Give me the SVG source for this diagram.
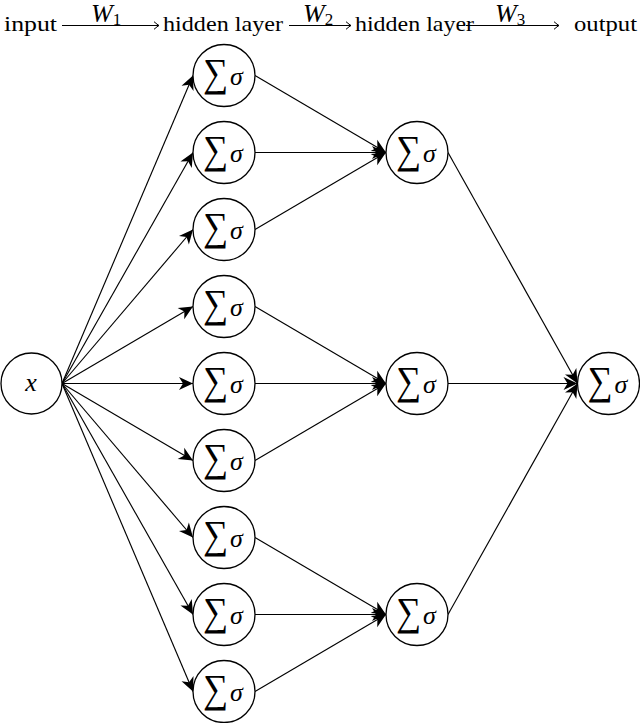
<svg xmlns="http://www.w3.org/2000/svg" width="640" height="723" viewBox="0 0 640 723" font-family="Liberation Serif, Times New Roman, serif">
<style>
.node circle{fill:#fff;stroke:#000;stroke-width:1.3}
text{font-family:"Liberation Serif","Times New Roman",serif}
.sum{font-size:40px}
.sig{font-size:26px;font-style:italic}
.hdr{font-size:21px}
.w{font-size:26px;font-style:italic}
.sub{font-size:17px;font-style:normal}
#connectors line{stroke:#000;stroke-width:1.15;fill:none;marker-end:url(#stealth)}
#header line{stroke:#000;stroke-width:1;marker-end:url(#to)}
</style>
<defs>
<marker id="stealth" viewBox="-15 -8 16 16" refX="0" refY="0" markerWidth="16" markerHeight="16" markerUnits="userSpaceOnUse" orient="auto" overflow="visible">
<path d="M0,0 L-14,-6.5 L-10,0 L-14,6.5 Z" fill="#000"/>
</marker>
<marker id="to" viewBox="-7 -5 8 10" refX="0" refY="0" markerWidth="8" markerHeight="10" markerUnits="userSpaceOnUse" orient="auto" overflow="visible">
<path d="M-5,-3.8 Q-1.5,-0.8 0,0 Q-1.5,0.8 -5,3.8" fill="none" stroke="#000" stroke-width="1"/>
</marker>
</defs>
<rect width="640" height="723" fill="#fff"/>

<g id="header">
<text class="hdr" x="4" y="31" textLength="53" lengthAdjust="spacingAndGlyphs">input</text>
<line x1="62" y1="25.5" x2="159" y2="25.5"/>
<text class="w" x="91" y="22">W<tspan class="sub" dy="3">1</tspan></text>
<text class="hdr" x="163" y="31" textLength="120" lengthAdjust="spacingAndGlyphs">hidden layer</text>
<line x1="289" y1="25.5" x2="351" y2="25.5"/>
<text class="w" x="303" y="22">W<tspan class="sub" dy="3">2</tspan></text>
<text class="hdr" x="355" y="31" textLength="119" lengthAdjust="spacingAndGlyphs">hidden layer</text>
<line x1="466" y1="25.5" x2="559" y2="25.5"/>
<text class="w" x="495" y="22">W<tspan class="sub" dy="3">3</tspan></text>
<text class="hdr" x="574" y="31" textLength="63" lengthAdjust="spacingAndGlyphs">output</text>
</g>

<g id="connectors">
<line x1="62" y1="383.5" x2="193" y2="75.5"/>
<line x1="62" y1="383.5" x2="193" y2="152.5"/>
<line x1="62" y1="383.5" x2="193" y2="229.5"/>
<line x1="62" y1="383.5" x2="193" y2="306.5"/>
<line x1="62" y1="383.5" x2="193" y2="383.5"/>
<line x1="62" y1="383.5" x2="193" y2="460.5"/>
<line x1="62" y1="383.5" x2="193" y2="537.5"/>
<line x1="62" y1="383.5" x2="193" y2="614.5"/>
<line x1="62" y1="383.5" x2="193" y2="691.5"/>
<line x1="255" y1="75.5" x2="386" y2="152.5"/>
<line x1="255" y1="152.5" x2="386" y2="152.5"/>
<line x1="255" y1="229.5" x2="386" y2="152.5"/>
<line x1="255" y1="306.5" x2="386" y2="383.5"/>
<line x1="255" y1="383.5" x2="386" y2="383.5"/>
<line x1="255" y1="460.5" x2="386" y2="383.5"/>
<line x1="255" y1="537.5" x2="386" y2="614.5"/>
<line x1="255" y1="614.5" x2="386" y2="614.5"/>
<line x1="255" y1="691.5" x2="386" y2="614.5"/>
<line x1="448" y1="152.5" x2="577.5" y2="383.5"/>
<line x1="448" y1="383.5" x2="577.5" y2="383.5"/>
<line x1="448" y1="614.5" x2="577.5" y2="383.5"/>
</g>

<g id="input" class="node"><circle cx="31.5" cy="383.5" r="30.5"/><text class="sig" x="31" y="391" text-anchor="middle">x</text></g>

<g id="h1_1" class="node"><circle cx="224" cy="75.5" r="31"/><text class="sum" x="203" y="86" textLength="25" lengthAdjust="spacingAndGlyphs">∑</text><text class="sig" x="230" y="84.5">σ</text></g>
<g id="h1_2" class="node"><circle cx="224" cy="152.5" r="31"/><text class="sum" x="203" y="163" textLength="25" lengthAdjust="spacingAndGlyphs">∑</text><text class="sig" x="230" y="161.5">σ</text></g>
<g id="h1_3" class="node"><circle cx="224" cy="229.5" r="31"/><text class="sum" x="203" y="240" textLength="25" lengthAdjust="spacingAndGlyphs">∑</text><text class="sig" x="230" y="238.5">σ</text></g>
<g id="h1_4" class="node"><circle cx="224" cy="306.5" r="31"/><text class="sum" x="203" y="317" textLength="25" lengthAdjust="spacingAndGlyphs">∑</text><text class="sig" x="230" y="315.5">σ</text></g>
<g id="h1_5" class="node"><circle cx="224" cy="383.5" r="31"/><text class="sum" x="203" y="394" textLength="25" lengthAdjust="spacingAndGlyphs">∑</text><text class="sig" x="230" y="392.5">σ</text></g>
<g id="h1_6" class="node"><circle cx="224" cy="460.5" r="31"/><text class="sum" x="203" y="471" textLength="25" lengthAdjust="spacingAndGlyphs">∑</text><text class="sig" x="230" y="469.5">σ</text></g>
<g id="h1_7" class="node"><circle cx="224" cy="537.5" r="31"/><text class="sum" x="203" y="548" textLength="25" lengthAdjust="spacingAndGlyphs">∑</text><text class="sig" x="230" y="546.5">σ</text></g>
<g id="h1_8" class="node"><circle cx="224" cy="614.5" r="31"/><text class="sum" x="203" y="625" textLength="25" lengthAdjust="spacingAndGlyphs">∑</text><text class="sig" x="230" y="623.5">σ</text></g>
<g id="h1_9" class="node"><circle cx="224" cy="691.5" r="31"/><text class="sum" x="203" y="702" textLength="25" lengthAdjust="spacingAndGlyphs">∑</text><text class="sig" x="230" y="700.5">σ</text></g>

<g id="h2_1" class="node"><circle cx="417" cy="152.5" r="31"/><text class="sum" x="396" y="163" textLength="25" lengthAdjust="spacingAndGlyphs">∑</text><text class="sig" x="423" y="161.5">σ</text></g>
<g id="h2_2" class="node"><circle cx="417" cy="383.5" r="31"/><text class="sum" x="396" y="394" textLength="25" lengthAdjust="spacingAndGlyphs">∑</text><text class="sig" x="423" y="392.5">σ</text></g>
<g id="h2_3" class="node"><circle cx="417" cy="614.5" r="31"/><text class="sum" x="396" y="625" textLength="25" lengthAdjust="spacingAndGlyphs">∑</text><text class="sig" x="423" y="623.5">σ</text></g>

<g id="output" class="node"><circle cx="608.5" cy="383.5" r="31"/><text class="sum" x="587.5" y="394" textLength="25" lengthAdjust="spacingAndGlyphs">∑</text><text class="sig" x="614.5" y="392.5">σ</text></g>
</svg>
